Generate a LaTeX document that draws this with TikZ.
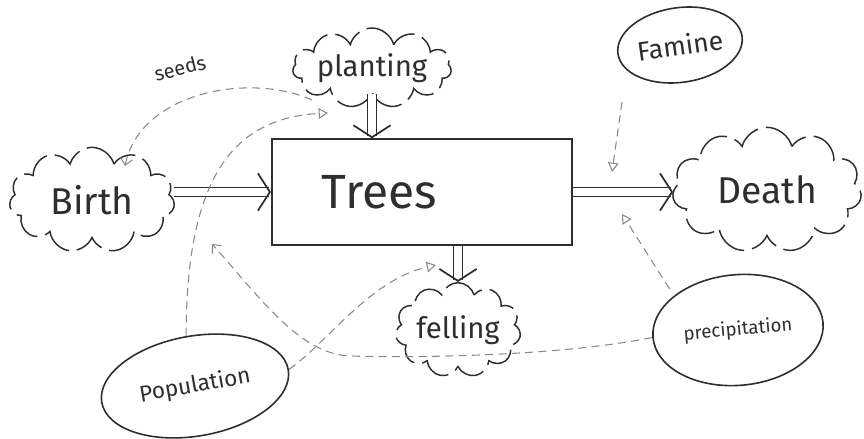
\documentclass[tikz,border=0pt]{standalone}
\usepackage{fontspec}
\setmainfont{Fira Sans}
\usetikzlibrary{arrows.meta,shapes.symbols,shapes.geometric}

\definecolor{ink}{HTML}{2E2E2E}
\definecolor{linkgray}{HTML}{8A8A8A}

\tikzset{every picture/.style={line width=0.75pt}}
\tikzset{
  stock/.style={draw=ink, line width=1.6pt, minimum width=225pt, minimum height=79pt, inner sep=0pt},
  puff/.style={cloud, cloud puffs=11, cloud ignores aspect, draw=ink, line width=1.1pt,
    dash pattern=on 26pt off 6pt, inner sep=0pt},
  aux/.style={ellipse, draw=ink, line width=1.2pt, inner sep=0pt},
  flow/.style={draw=ink, double, double distance=6pt, line width=1pt,
    -{Straight Barb[length=9pt, width=28pt, line width=1.3pt]}},
  link/.style={draw=linkgray, line width=0.8pt, dash pattern=on 6pt off 4pt,
    -{Triangle[open, length=7pt, width=8pt]}},
  seedlink/.style={draw=linkgray, line width=0.8pt, dash pattern=on 6pt off 4pt,
    -{Straight Barb[length=5pt, width=9pt]}}
}

\begin{document}
\begin{tikzpicture}[x=0.75pt,y=0.75pt,yscale=-1,xscale=1]
\useasboundingbox (0,0) rectangle (864,439);

% stock and clouds
\draw (422,192) node [stock, label={[xshift=-32pt, font=\fontsize{36}{42}\selectfont, text=ink]center:Trees}] (trees) {};
\draw (92,200) node [puff, minimum width=124pt, minimum height=79pt, font=\fontsize{28}{34}\selectfont, text=ink] (birth) {Birth};
\draw (372,68) node [puff, minimum width=105pt, minimum height=60pt, font=\fontsize{22}{26}\selectfont, text=ink] (planting) {planting};
\draw (767,190) node [puff, minimum width=142pt, minimum height=94pt, font=\fontsize{28}{34}\selectfont, text=ink] (death) {Death};
\draw (458,330) node [puff, minimum width=94pt, minimum height=71pt, font=\fontsize{22}{26}\selectfont, text=ink] (felling) {felling};

% auxiliaries
\draw (680,45) node [aux, rotate=8, minimum width=94pt, minimum height=56pt, font=\fontsize{20}{24}\selectfont, text=ink] (famine) {Famine};
\draw (195,386) node [aux, rotate=10, minimum width=142pt, minimum height=75pt, font=\fontsize{17}{20}\selectfont, text=ink] (population) {Population};
\draw (738,330) node [aux, rotate=5, minimum width=128pt, minimum height=83pt, font=\fontsize{14}{17}\selectfont, text=ink] (precipitation) {precipitation};
\draw (180,68) node [rotate=14, font=\fontsize{15}{18}\selectfont, text=ink] (seedslabel) {seeds};

% flows
\draw [flow] (birth.east |- trees) -- (trees.west);
\draw [flow] (planting.south) -- (planting.south |- trees.north);
\draw [flow] (trees.east) -- (death.west |- trees.east);
\draw [flow] (trees.south -| felling) -- (felling.north);

% link end points
\coordinate (famsrc) at (622,102);
\coordinate (famtip) at (612,172);
\coordinate (pretip) at (622,214);
\coordinate (plantip) at (328,113);
\coordinate (felltip) at (436,265);
\coordinate (birthtip) at (212,244);
\coordinate (seedsrc) at (312,100);
\coordinate (seedtip) at (125,166);

% links
\draw [link] (famsrc) -- (famtip);
\draw [link, shorten <=6pt] (precipitation.north west) -- (pretip);
\draw [link] (population.north) .. controls (186,175) and (235,118) .. (plantip);
\draw [link] (population.east) .. controls (330,340) and (370,280) .. (felltip);
\draw [seedlink] (precipitation.west) .. controls (560,356) and (420,358) .. (350,356) .. controls (300,354) and (262,300) .. (birthtip);
\draw [seedlink] (seedsrc) .. controls (250,72) and (140,92) .. (seedtip);

\end{tikzpicture}
\end{document}
